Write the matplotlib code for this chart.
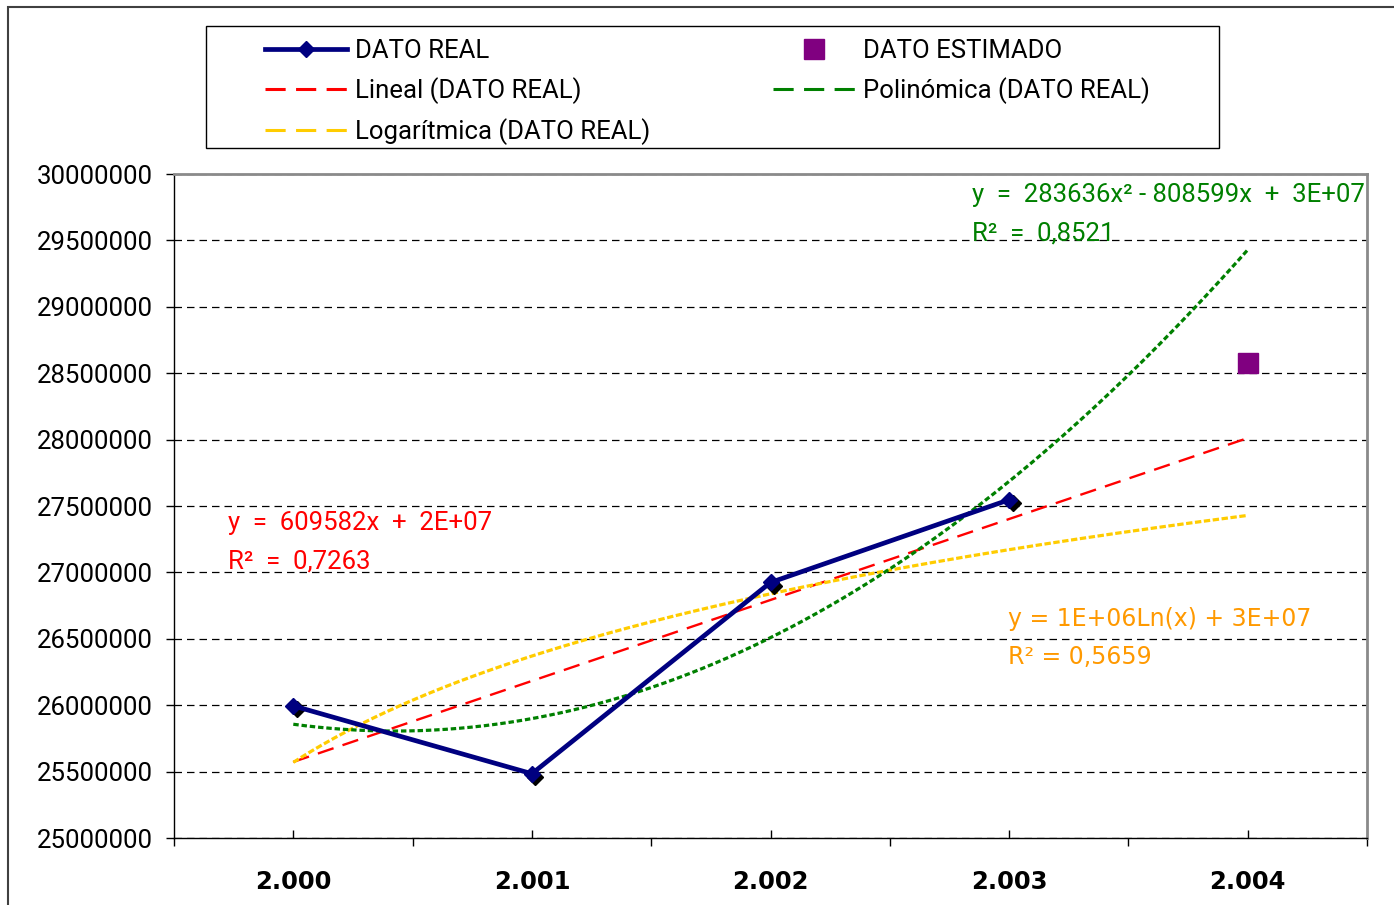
import matplotlib
matplotlib.use('Agg')
import matplotlib.pyplot as plt
import numpy as np
from matplotlib.lines import Line2D
from matplotlib.patches import Rectangle
import matplotlib.transforms as mtransforms

# ---------------- data ----------------
categories = ['2.000', '2.001', '2.002', '2.003', '2.004']
x_real = [1, 2, 3, 4]
dato_real = [25995000, 25484000, 26924000, 27547000]
x_est = [5]
dato_estimado = [28575000]
y_ticks = list(range(25000000, 30000001, 500000))
legend_labels = ['DATO REAL', 'Lineal (DATO REAL)', 'Logarítmica (DATO REAL)',
                 'DATO ESTIMADO', 'Polinómica (DATO REAL)']
eq_lineal = ['y  =  609582x  +  2E+07', 'R²  =  0,7263']
eq_poli = ['y  =  283636x² - 808599x  +  3E+07', 'R²  =  0,8521']
eq_log = ['y = 1E+06Ln(x) + 3E+07', 'R² = 0,5659']

# ---------------- layout helpers ----------------
W, H = 1394, 905
fig = plt.figure(figsize=(W / 100, H / 100), dpi=100)
fig.patch.set_facecolor('white')

def fx(px):
    return px / W

def fy(py):
    return 1 - py / H

FONT = 'Roboto'
ax = fig.add_axes([fx(174), fy(838), fx(1367) - fx(174), fy(174) - fy(838)])
ax.set_xlim(0.5, 5.5)
ax.set_ylim(25000000, 30000000)

# ---------------- trendlines (fitted on DATO REAL) ----------------
xr = np.array(x_real, dtype=float)
yr = np.array(dato_real, dtype=float)
xs = np.linspace(1, 5, 300)
lin = np.polyfit(xr, yr, 1)
poly = np.polyfit(xr, yr, 2)
logc = np.polyfit(np.log(xr), yr, 1)

ax.plot(xs, np.polyval(lin, xs), color='#FF0000', lw=1.7, dashes=(7, 4.0), zorder=3)
ax.plot(xs, np.polyval(logc, np.log(xs)), color='#FFCC00', lw=2.3, dashes=(2.0, 0.8), zorder=3)
ax.plot(xs, np.polyval(poly, xs), color='#008000', lw=2.3, dashes=(1.7, 0.9), zorder=3)

# ---------------- series ----------------
shadow = ax.transData + mtransforms.ScaledTranslation(3.5 / 100, -3.5 / 100, fig.dpi_scale_trans)
ax.plot(xr, yr, ls='none', marker='D', ms=8, color='black', transform=shadow, zorder=4)
ax.plot(xr, yr, color='#000080', lw=3.4, marker='D', ms=8, zorder=5)
ax.plot(x_est, dato_estimado, ls='none', marker='s', ms=15, color='#800080', zorder=5)

# ---------------- axes styling ----------------
for s in ['left', 'bottom']:
    ax.spines[s].set_color('black')
    ax.spines[s].set_linewidth(1.0)
for s in ['top', 'right']:
    ax.spines[s].set_color('#8a8a8a')
    ax.spines[s].set_linewidth(2.0)

ax.set_yticks(y_ticks)
ax.set_yticklabels([str(v) for v in y_ticks], family=FONT, fontsize=18.5)
ax.tick_params(axis='y', direction='out', length=6, width=1, pad=9)
ax.grid(axis='y', which='major', color='black', lw=0.9, linestyle=(0, (6, 4)), zorder=1)
ax.set_axisbelow(True)

ax.set_xticks(np.arange(0.5, 5.6, 1.0))
ax.set_xticklabels([])
ax.tick_params(axis='x', which='major', direction='out', length=6, width=1)
ax.set_xticks(np.arange(1, 6), minor=True)
ax.set_xticklabels(categories, minor=True, family='DejaVu Sans', fontweight='bold', fontsize=17.5)
ax.tick_params(axis='x', which='minor', direction='in', length=6, width=1, pad=23)

# ---------------- equations ----------------
fig.text(fx(228), fy(523), eq_lineal[0], color='#FF0000', va='center', ha='left', family=FONT, fontsize=18.5)
fig.text(fx(228), fy(562), eq_lineal[1], color='#FF0000', va='center', ha='left', family=FONT, fontsize=18.5)
fig.text(fx(972), fy(195), eq_poli[0], color='#008000', va='center', ha='left', family=FONT, fontsize=18.5)
fig.text(fx(972), fy(233), eq_poli[1], color='#008000', va='center', ha='left', family=FONT, fontsize=18.5)
fig.text(fx(1008), fy(619), eq_log[0], color='#FF9900', va='center', ha='left', family='DejaVu Sans', fontsize=17)
fig.text(fx(1008), fy(657), eq_log[1], color='#FF9900', va='center', ha='left', family='DejaVu Sans', fontsize=17)

# ---------------- legend ----------------
h_real = Line2D([], [], color='#000080', lw=3.4, marker='D', ms=8)
h_lin = Line2D([], [], color='#FF0000', lw=2.2, dashes=(6.6, 3.4))
h_log = Line2D([], [], color='#FFCC00', lw=2.2, dashes=(6.6, 3.4))
h_est = Line2D([], [], ls='none', marker='s', ms=14, color='#800080')
h_poly = Line2D([], [], color='#008000', lw=2.2, dashes=(6.6, 3.4))
leg = fig.legend([h_real, h_lin, h_log, h_est, h_poly], legend_labels, ncol=2, mode='expand',
                 loc='center',
                 bbox_to_anchor=(fx(265), fy(154), fx(1150) - fx(265), fy(30) - fy(154)),
                 bbox_transform=fig.transFigure, frameon=False, borderpad=0, borderaxespad=0,
                 handlelength=3.2, handletextpad=0.3, labelspacing=0.55,
                 prop={'family': FONT, 'size': 18.5})

fig.add_artist(Rectangle((fx(206), fy(148)), fx(1219) - fx(206), fy(26) - fy(148),
                         transform=fig.transFigure, fill=False, ec='black', lw=1))
# outer chart border (clipped by the image on the right and bottom)
fig.add_artist(Rectangle((fx(8), -0.05), 1.2, fy(7) + 0.05, transform=fig.transFigure,
                         fill=False, ec='#404040', lw=1.5))

fig.savefig('out.png', dpi=100)
